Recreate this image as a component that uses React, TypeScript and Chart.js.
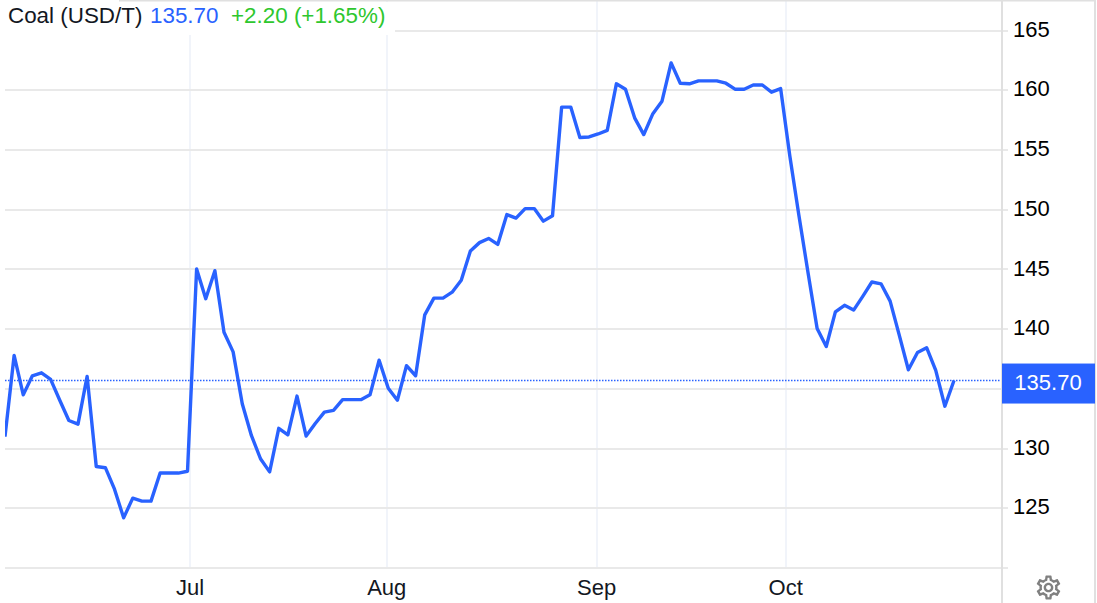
import React, { useEffect, useRef } from "react";
import { Chart, registerables } from "chart.js";

Chart.register(...registerables);

const values = [
  131.0, 137.8, 134.5, 136.1, 136.35, 135.8, 134.05, 132.35, 132.05, 136.05,
  128.5, 128.4, 126.6, 124.2, 125.85, 125.6, 125.6, 127.95, 127.95, 127.95,
  128.1, 145.05, 142.55, 144.9, 139.75, 138.1, 133.75, 131.1, 129.15, 128.05,
  131.7, 131.15, 134.4, 131.05, 132.1, 133.05, 133.2, 134.1, 134.1, 134.1,
  134.5, 137.4, 135.05, 134.05, 136.95, 136.1, 141.2, 142.6, 142.6, 143.1,
  144.1, 146.55, 147.25, 147.6, 147.1, 149.6, 149.3, 150.1, 150.1, 149.05,
  149.5, 158.6, 158.6, 156.05, 156.1, 156.35, 156.65, 160.55, 160.1, 157.7,
  156.3, 158.05, 159.1, 162.3, 160.6, 160.55, 160.8, 160.8, 160.8, 160.6,
  160.1, 160.1, 160.45, 160.45, 159.85, 160.15, 154.55, 149.55, 144.75, 140.05,
  138.55, 141.45, 142.0, 141.6, 142.75, 143.95, 143.8, 142.35, 139.5, 136.6,
  138.05, 138.45, 136.55, 133.55, 135.7,
];
const monthLabels = ["Jul", "Aug", "Sep", "Oct"];
const monthPositions = [20.27, 41.83, 64.84, 85.55];
const lastValue = 135.7;
const lastLabel = "135.70";
const titleName = "Coal (USD/T)";
const titlePrice = "135.70";
const titleChange = "+2.20 (+1.65%)";

const FONT = '"Liberation Sans", Arial, sans-serif';
const BLUE = "#2962ff";
const INK = "#131722";
const X_MAX = 109.26;
const Y_MIN = 120;
const Y_MAX = 167.57;

const framePlugin = {
  id: "frame",
  beforeDraw(chart: any) {
    const c = chart.ctx;
    c.save();
    c.fillStyle = "#fff";
    c.fillRect(0, 0, chart.width, chart.height);
    c.restore();
  },
  afterDraw(chart: any) {
    const c = chart.ctx;
    const a = chart.chartArea;
    c.save();
    c.fillStyle = "#e0e0e0";
    c.fillRect(a.right - 1, 0, 2, chart.height);
    c.fillRect(a.right + 92, 0, 2, chart.height);
    c.fillRect(119, 0, a.right + 94 - 119, 1.5);
    const y = chart.scales.y.getPixelForValue(lastValue);
    c.fillStyle = BLUE;
    c.fillRect(a.right, y - 17, 93, 40);
    c.fillStyle = "#fff";
    c.font = `22px ${FONT}`;
    c.textAlign = "center";
    c.textBaseline = "middle";
    c.fillText(lastLabel, a.right + 46, y + 3);
    c.restore();
  },
};

export default function App() {
  const ref = useRef<HTMLCanvasElement>(null);
  useEffect(() => {
    const canvas = ref.current!;
    canvas.getContext("2d", { alpha: false });
    const chart = new Chart(canvas, {
      type: "line",
      data: {
        datasets: [
          {
            data: [
              { x: 0, y: lastValue },
              { x: X_MAX, y: lastValue },
            ],
            borderColor: BLUE,
            borderWidth: 1.5,
            borderDash: [1.5, 1.5],
            pointRadius: 0,
            order: 2,
          },
          {
            data: values.map((v, i) => ({ x: i, y: v })),
            borderColor: BLUE,
            borderWidth: 3.4,
            borderJoinStyle: "round",
            pointRadius: 0,
            tension: 0,
            order: 1,
          },
        ],
      },
      options: {
        animation: false,
        responsive: false,
        layout: { padding: { left: 5, top: 0, right: 0, bottom: 0 } },
        plugins: { legend: { display: false }, tooltip: { enabled: false } },
        scales: {
          x: {
            type: "linear",
            min: 0,
            max: X_MAX,
            afterFit(s: any) {
              s.height = 35;
              s.paddingLeft = 0;
              s.paddingRight = 0;
            },
            afterBuildTicks(s: any) {
              s.ticks = monthPositions.map((value) => ({ value }));
            },
            grid: { color: "#f1f4fa", lineWidth: 2, drawTicks: false },
            border: { display: false },
            ticks: {
              autoSkip: false,
              maxRotation: 0,
              padding: 8,
              color: INK,
              font: { family: FONT, size: 22 },
              callback: (v: any) => monthLabels[monthPositions.indexOf(v)] ?? "",
            },
          },
          y: {
            position: "right",
            min: Y_MIN,
            max: Y_MAX,
            afterFit(s: any) {
              s.width = 95;
              s.paddingTop = 0;
              s.paddingBottom = 0;
            },
            grid: { color: "#e9e9e9", lineWidth: 2, tickLength: 6, tickColor: "#e9e9e9" },
            border: { display: false },
            ticks: {
              stepSize: 5,
              includeBounds: false,
              padding: 5,
              color: "#000",
              font: { family: FONT, size: 22 },
              callback: (v: any) => (v === Y_MIN ? "" : String(v)),
            },
          },
        },
      },
      plugins: [framePlugin],
    } as any);
    return () => chart.destroy();
  }, []);

  const span = (left: number, color: string, text: string) => (
    <span style={{ position: "absolute", left, top: 1, color, whiteSpace: "pre" }}>{text}</span>
  );

  return (
    <div style={{ position: "absolute", left: 0, top: 0, width: 1097, height: 603, background: "#fff", overflow: "hidden" }}>
      <canvas ref={ref} width={1097} height={603} style={{ display: "block" }} />
      <div
        style={{
          position: "absolute",
          left: 5,
          top: 2,
          width: 390,
          height: 33,
          background: "#fff",
          font: `22.4px ${FONT}`,
          lineHeight: "26px",
        }}
      >
        {span(3, INK, titleName)}
        {span(145, BLUE, titlePrice)}
        {span(226, "#2ec72e", titleChange)}
      </div>
      <svg
        viewBox="0 0 24 24"
        width={29}
        height={29}
        style={{ position: "absolute", left: 1033.5, top: 572.5 }}
      >
        <path
          fill="#808080"
          d="M19.43 12.98c.04-.32.07-.64.07-.98 0-.34-.03-.66-.07-.98l2.11-1.65c.19-.15.24-.42.12-.64l-2-3.46c-.09-.16-.26-.25-.44-.25-.06 0-.12.01-.17.03l-2.49 1c-.52-.4-1.08-.73-1.69-.98l-.38-2.65C14.46 2.18 14.25 2 14 2h-4c-.25 0-.46.18-.49.42l-.38 2.65c-.61.25-1.17.59-1.69.98l-2.49-1c-.06-.02-.12-.03-.18-.03-.17 0-.34.09-.43.25l-2 3.46c-.13.22-.07.49.12.64l2.11 1.65c-.04.32-.07.65-.07.98 0 .33.03.66.07.98l-2.11 1.65c-.19.15-.24.42-.12.64l2 3.46c.09.16.26.25.44.25.06 0 .12-.01.17-.03l2.49-1c.52.4 1.08.73 1.69.98l.38 2.65c.03.24.24.42.49.42h4c.25 0 .46-.18.49-.42l.38-2.65c.61-.25 1.17-.59 1.69-.98l2.49 1c.06.02.12.03.18.03.17 0 .34-.09.43-.25l2-3.46c.12-.22.07-.49-.12-.64l-2.11-1.65zm-1.98-1.71c.04.31.05.52.05.73 0 .21-.02.43-.05.73l-.14 1.13.89.7 1.08.84-.7 1.21-1.27-.51-1.04-.42-.9.68c-.43.32-.84.56-1.25.73l-1.06.43-.16 1.13-.2 1.35h-1.4l-.19-1.35-.16-1.13-1.06-.43c-.43-.18-.83-.41-1.23-.71l-.91-.7-1.06.43-1.27.51-.7-1.21 1.08-.84.89-.7-.14-1.13c-.03-.31-.05-.54-.05-.74s.02-.43.05-.73l.14-1.13-.89-.7-1.08-.84.7-1.21 1.27.51 1.04.42.9-.68c.43-.32.84-.56 1.25-.73l1.06-.43.16-1.13.2-1.35h1.39l.19 1.35.16 1.13 1.06.43c.43.18.83.41 1.23.71l.91.7 1.06-.43 1.27-.51.7 1.21-1.07.85-.89.7.14 1.13zM12 8c-2.21 0-4 1.79-4 4s1.79 4 4 4 4-1.79 4-4-1.79-4-4-4zm0 6c-1.1 0-2-.9-2-2s.9-2 2-2 2 .9 2 2-.9 2-2 2z"
        />
      </svg>
    </div>
  );
}
